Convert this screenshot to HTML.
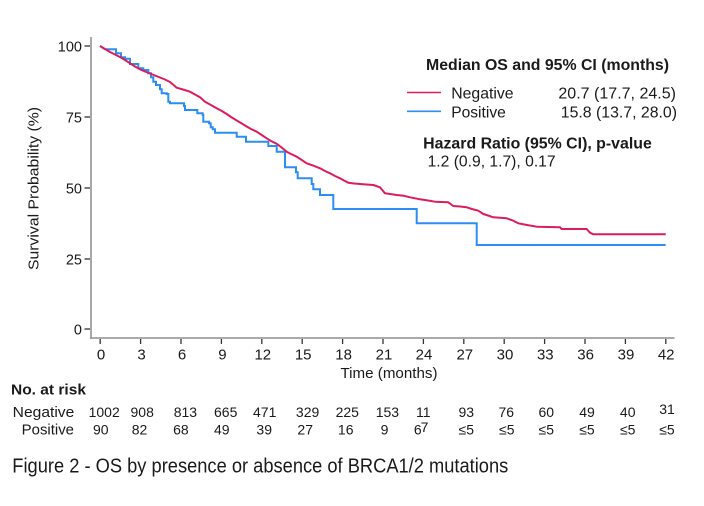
<!DOCTYPE html>
<html>
<head>
<meta charset="utf-8">
<style>
  html, body { margin: 0; padding: 0; background: #ffffff; }
  svg { display: block; }
  text { font-family: "Liberation Sans", Arial, sans-serif; fill: #1a1a1a; }
</style>
</head>
<body>
<svg width="704" height="506" viewBox="0 0 704 506" xmlns="http://www.w3.org/2000/svg">
  <rect x="0" y="0" width="704" height="506" fill="#ffffff"/>

  <!-- axes -->
  <line x1="91" y1="37" x2="91" y2="339" stroke="#9e9e9e" stroke-width="1.8"/>
  <line x1="90" y1="338" x2="674.5" y2="338" stroke="#9e9e9e" stroke-width="1.8"/>

  <!-- y ticks -->
  <g stroke="#333" stroke-width="1.3">
    <line x1="84.5" y1="46" x2="90" y2="46"/>
    <line x1="84.5" y1="117" x2="90" y2="117"/>
    <line x1="84.5" y1="188" x2="90" y2="188"/>
    <line x1="84.5" y1="259" x2="90" y2="259"/>
    <line x1="84.5" y1="329" x2="90" y2="329"/>
  </g>
  <g font-size="14.5" text-anchor="end">
    <text x="82" y="51.5">100</text>
    <text x="82" y="122.5">75</text>
    <text x="82" y="193.5">50</text>
    <text x="82" y="264.5">25</text>
    <text x="82" y="334.5">0</text>
  </g>

  <!-- x ticks -->
  <g stroke="#333" stroke-width="1.3">
    <line x1="100.2" y1="339" x2="100.2" y2="344"/>
    <line x1="140.6" y1="339" x2="140.6" y2="344"/>
    <line x1="181" y1="339" x2="181" y2="344"/>
    <line x1="221.4" y1="339" x2="221.4" y2="344"/>
    <line x1="261.8" y1="339" x2="261.8" y2="344"/>
    <line x1="302.2" y1="339" x2="302.2" y2="344"/>
    <line x1="342.6" y1="339" x2="342.6" y2="344"/>
    <line x1="383" y1="339" x2="383" y2="344"/>
    <line x1="423.4" y1="339" x2="423.4" y2="344"/>
    <line x1="463.8" y1="339" x2="463.8" y2="344"/>
    <line x1="504.2" y1="339" x2="504.2" y2="344"/>
    <line x1="544.6" y1="339" x2="544.6" y2="344"/>
    <line x1="585" y1="339" x2="585" y2="344"/>
    <line x1="625.4" y1="339" x2="625.4" y2="344"/>
    <line x1="665.8" y1="339" x2="665.8" y2="344"/>
  </g>
  <g font-size="15" text-anchor="middle">
    <text x="101" y="359.5">0</text>
    <text x="141.5" y="359.5">3</text>
    <text x="182" y="359.5">6</text>
    <text x="222.4" y="359.5">9</text>
    <text x="262.8" y="359.5">12</text>
    <text x="303.2" y="359.5">15</text>
    <text x="343.6" y="359.5">18</text>
    <text x="384" y="359.5">21</text>
    <text x="424" y="359.5">24</text>
    <text x="464.8" y="359.5">27</text>
    <text x="505" y="359.5">30</text>
    <text x="545.3" y="359.5">33</text>
    <text x="585.6" y="359.5">36</text>
    <text x="626" y="359.5">39</text>
    <text x="666.2" y="359.5">42</text>
  </g>

  <!-- axis titles -->
  <text x="340.5" y="378" font-size="15" textLength="97" lengthAdjust="spacingAndGlyphs">Time (months)</text>
  <text transform="translate(38.5,270) rotate(-90)" x="0" y="0" font-size="15" textLength="163" lengthAdjust="spacingAndGlyphs">Survival Probability (%)</text>

  <!-- curves -->
  <polyline fill="none" stroke="#2b8ef2" stroke-width="2" stroke-linejoin="miter"
    points="100,46 105,49.3 116,49.3 116,53.3 121,53.3 121,57.3 125,57.3 125,58.8 130,58.8 130,64 138.3,64 138.3,68.3 143.3,68.3 143.3,70 148.3,70 148.3,73.3 151,73.3 151,77.3 153.3,77.3 153.3,81.7 156,81.7 156,85 160,85 160,89.3 161.7,89.3 161.7,93.3 166.7,93.3 166.7,94 168.3,94 168.3,101.7 170,101.7 170,103.3 184,103.3 184,106 185,106 185,110 197.3,110 197.3,113.3 202.7,113.3 202.7,115 203.3,115 203.3,121.7 209,121.7 209,123.3 210.7,123.3 210.7,127.3 212.7,127.3 212.7,129.3 215,129.3 215,132.7 236.7,132.7 236.7,136.7 246,136.7 246,141.7 268.3,141.7 268.3,146 276.7,146 276.7,151.7 285,151.7 285,167.3 296,167.3 296,172.3 297.7,172.3 297.7,178.3 311.7,178.3 311.7,184 313.3,184 313.3,189.3 320,189.3 320,195 333.3,195 333.3,209 416.7,209 416.7,223.3 476.7,223.3 476.7,245 665.7,245"/>
  <polyline fill="none" stroke="#dc1c5c" stroke-width="2" stroke-linejoin="round"
    points="100,46 105,49 110,52 115,54.5 120,57 125,60 130,63.3 135,66.5 140,69.3 145,71.5 150,73.5 155,75.5 160,77.5 165,79.5 170,82 173,84.5 176.7,87.7 183,89.5 190,91.7 195,94.5 200,97.3 205,101.7 210,104.5 216.7,108.3 221,110.5 226.7,114 231,117 236.7,120.5 241,123 246.7,126.5 251,129 256.7,131.7 261,134.5 266.7,138.3 271,141 276.7,143.8 281,147 286.7,151.7 291,154 296.7,156.7 301,159.5 306.7,163.3 313,165.5 320,168.3 325,171 330,173.3 335,176 340,178.3 344,180.5 348.3,182.7 354,183.5 360,184 373.3,185 380,187.3 385,193.3 396.7,195 404,195.8 410,197.3 420,199.3 428,200.5 435,201.7 448.3,202.3 453.3,206 460,206.5 466.7,207.3 472,209 478.3,210.7 483.3,214 488,215.5 493.3,217.3 506.7,218.3 513.3,220.7 518.3,223.3 527,225 536.7,226.7 560,227.3 561.7,229 586.7,229 590,232.7 593.3,234.3 665.7,234.3"/>

  <!-- legend -->
  <text x="426" y="69.8" font-size="15.5" font-weight="bold" textLength="243" lengthAdjust="spacingAndGlyphs">Median OS and 95% CI (months)</text>
  <line x1="407" y1="92.5" x2="441" y2="92.5" stroke="#dc1c5c" stroke-width="1.6"/>
  <line x1="407" y1="111.3" x2="441" y2="111.3" stroke="#2b8ef2" stroke-width="1.6"/>
  <text x="451.2" y="98.4" font-size="16" textLength="62.4" lengthAdjust="spacingAndGlyphs">Negative</text>
  <text x="451.2" y="117.4" font-size="16" textLength="54.6" lengthAdjust="spacingAndGlyphs">Positive</text>
  <text x="558.4" y="98.4" font-size="16" textLength="117.6" lengthAdjust="spacingAndGlyphs">20.7 (17.7, 24.5)</text>
  <text x="560.8" y="117.4" font-size="16" textLength="116.2" lengthAdjust="spacingAndGlyphs">15.8 (13.7, 28.0)</text>
  <text x="423.2" y="148.6" font-size="15.5" font-weight="bold" textLength="228.6" lengthAdjust="spacingAndGlyphs">Hazard Ratio (95% CI), p-value</text>
  <text x="427.6" y="166.5" font-size="15.5" textLength="128" lengthAdjust="spacingAndGlyphs">1.2 (0.9, 1.7), 0.17</text>

  <!-- number at risk -->
  <text x="11" y="394.6" font-size="14.5" font-weight="bold" textLength="75" lengthAdjust="spacingAndGlyphs">No. at risk</text>
  <text x="12.7" y="417" font-size="14.5" textLength="61.6" lengthAdjust="spacingAndGlyphs">Negative</text>
  <text x="21.7" y="434.7" font-size="14.5" textLength="52.3" lengthAdjust="spacingAndGlyphs">Positive</text>

  <g font-size="14" text-anchor="middle">
    <text x="104.2" y="417">1002</text>
    <text x="142.2" y="417">908</text>
    <text x="185.4" y="417">813</text>
    <text x="225.7" y="417">665</text>
    <text x="264.7" y="417">471</text>
    <text x="307.6" y="417">329</text>
    <text x="347.3" y="417">225</text>
    <text x="387.4" y="417">153</text>
    <text x="423.3" y="417">11</text>
    <text x="466.3" y="417">93</text>
    <text x="506.3" y="417">76</text>
    <text x="546.3" y="417">60</text>
    <text x="587" y="417">49</text>
    <text x="627.7" y="417">40</text>
    <text x="667" y="414">31</text>

    <text x="100.8" y="434.7">90</text>
    <text x="139.5" y="434.7">82</text>
    <text x="180.9" y="434.7">68</text>
    <text x="221.8" y="434.7">49</text>
    <text x="264.2" y="434.7">39</text>
    <text x="305.2" y="434.7">27</text>
    <text x="345.7" y="434.7">16</text>
    <text x="384.5" y="434.7">9</text>
    <text x="417.8" y="434.7">6</text>
    <text x="424.5" y="432.2">7</text>
    <text x="466.3" y="434.7">≤5</text>
    <text x="506.8" y="434.7">≤5</text>
    <text x="546.3" y="434.7">≤5</text>
    <text x="587" y="434.7">≤5</text>
    <text x="627.7" y="434.7">≤5</text>
    <text x="667" y="434.7">≤5</text>
  </g>

  <!-- caption -->
  <text x="12.3" y="472.3" font-size="20" textLength="496" lengthAdjust="spacingAndGlyphs">Figure 2 - OS by presence or absence of BRCA1/2 mutations</text>
</svg>
</body>
</html>
